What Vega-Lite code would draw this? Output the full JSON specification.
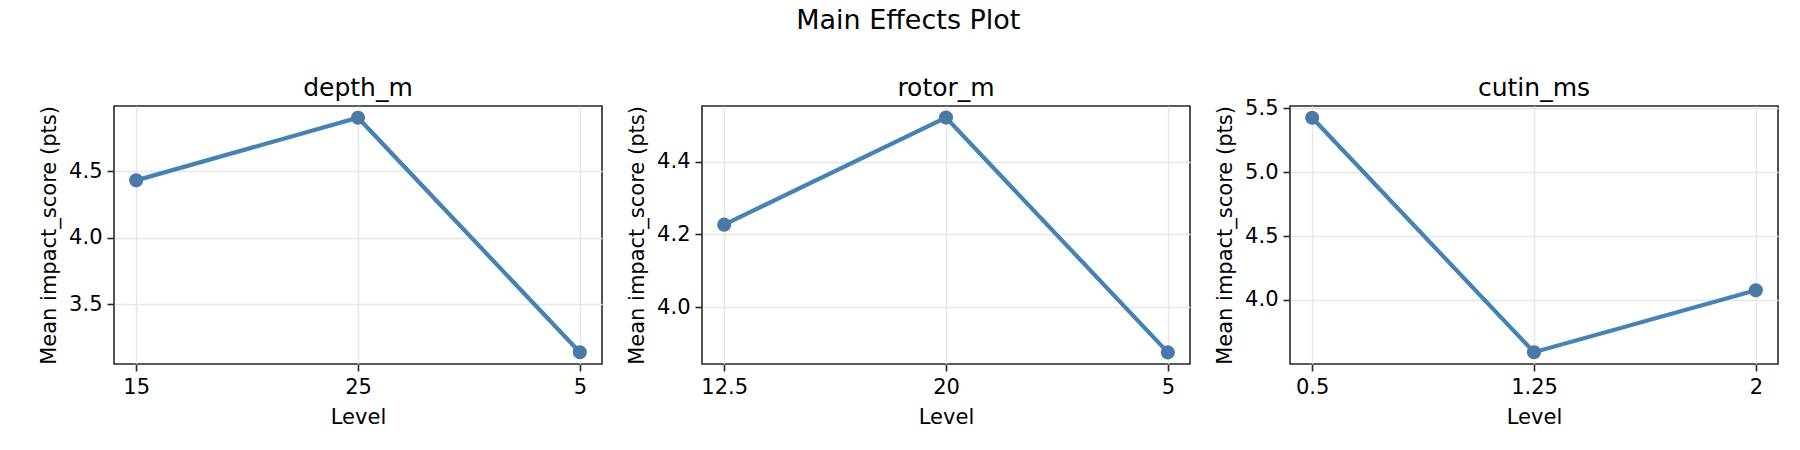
{
  "$schema": "https://vega.github.io/schema/vega-lite/v6.json",
  "padding": {"left": 37, "top": 6, "right": 5, "bottom": 5},
  "background": "white",
  "title": {
    "text": "Main Effects Plot",
    "fontSize": 27,
    "fontWeight": "normal",
    "font": "DejaVu Sans",
    "color": "black",
    "anchor": "middle",
    "offset": 40
  },
  "datasets": {
    "effects": [
      {"factor": "depth_m", "level": "15", "mean": 4.43},
      {"factor": "depth_m", "level": "25", "mean": 4.90},
      {"factor": "depth_m", "level": "5", "mean": 3.14},
      {"factor": "rotor_m", "level": "12.5", "mean": 4.227},
      {"factor": "rotor_m", "level": "20", "mean": 4.522},
      {"factor": "rotor_m", "level": "5", "mean": 3.875},
      {"factor": "cutin_ms", "level": "0.5", "mean": 5.426},
      {"factor": "cutin_ms", "level": "1.25", "mean": 3.59},
      {"factor": "cutin_ms", "level": "2", "mean": 4.075}
    ]
  },
  "hconcat": [
    {
      "title": {"text": "depth_m"},
      "width": 488,
      "height": 258,
      "data": {"name": "effects"},
      "transform": [{"filter": "datum.factor === 'depth_m'"}],
      "mark": {"type": "line", "point": {"size": 200, "filled": true, "opacity": 1}, "color": "#4682b4", "strokeWidth": 4.2},
      "encoding": {
        "x": {"field": "level", "type": "ordinal", "sort": null, "title": "Level", "scale": {"type": "point", "padding": 0.1}},
        "y": {
          "field": "mean", "type": "quantitative", "title": "Mean impact_score (pts)",
          "scale": {"domain": [3.052, 4.988], "nice": false, "zero": false},
          "axis": {"values": [3.5, 4.0, 4.5], "format": ".1f"}
        }
      }
    },
    {
      "title": {"text": "rotor_m"},
      "width": 488,
      "height": 258,
      "data": {"name": "effects"},
      "transform": [{"filter": "datum.factor === 'rotor_m'"}],
      "mark": {"type": "line", "point": {"size": 200, "filled": true, "opacity": 1}, "color": "#4682b4", "strokeWidth": 4.2},
      "encoding": {
        "x": {"field": "level", "type": "ordinal", "sort": null, "title": "Level", "scale": {"type": "point", "padding": 0.1}},
        "y": {
          "field": "mean", "type": "quantitative", "title": "Mean impact_score (pts)",
          "scale": {"domain": [3.843, 4.554], "nice": false, "zero": false},
          "axis": {"values": [4.0, 4.2, 4.4], "format": ".1f"}
        }
      }
    },
    {
      "title": {"text": "cutin_ms", "offset": -4},
      "width": 488,
      "height": 258,
      "data": {"name": "effects"},
      "transform": [{"filter": "datum.factor === 'cutin_ms'"}],
      "mark": {"type": "line", "point": {"size": 200, "filled": true, "opacity": 1}, "color": "#4682b4", "strokeWidth": 4.2},
      "encoding": {
        "x": {"field": "level", "type": "ordinal", "sort": null, "title": "Level", "scale": {"type": "point", "padding": 0.1}},
        "y": {
          "field": "mean", "type": "quantitative", "title": "Mean impact_score (pts)",
          "scale": {"domain": [3.498, 5.518], "nice": false, "zero": false},
          "axis": {"values": [4.0, 4.5, 5.0, 5.5], "format": ".1f"}
        }
      }
    }
  ],
  "spacing": 100,
  "bounds": "flush",
  "resolve": {"scale": {"x": "independent", "y": "independent"}},
  "config": {
    "font": "DejaVu Sans",
    "view": {"stroke": "#262626", "strokeWidth": 1.6},
    "title": {"fontSize": 25, "fontWeight": "normal", "color": "black", "offset": 5},
    "axis": {
      "domain": false,
      "grid": true,
      "gridColor": "#e6e6e6",
      "gridWidth": 1.4,
      "ticks": true,
      "tickColor": "#262626",
      "tickSize": 7,
      "tickWidth": 1.6,
      "labelFontSize": 21,
      "labelColor": "black",
      "labelPadding": 5,
      "labelAngle": 0,
      "titleFontSize": 21,
      "titleFontWeight": "normal",
      "titleColor": "black",
      "titlePadding": 9
    }
  }
}
